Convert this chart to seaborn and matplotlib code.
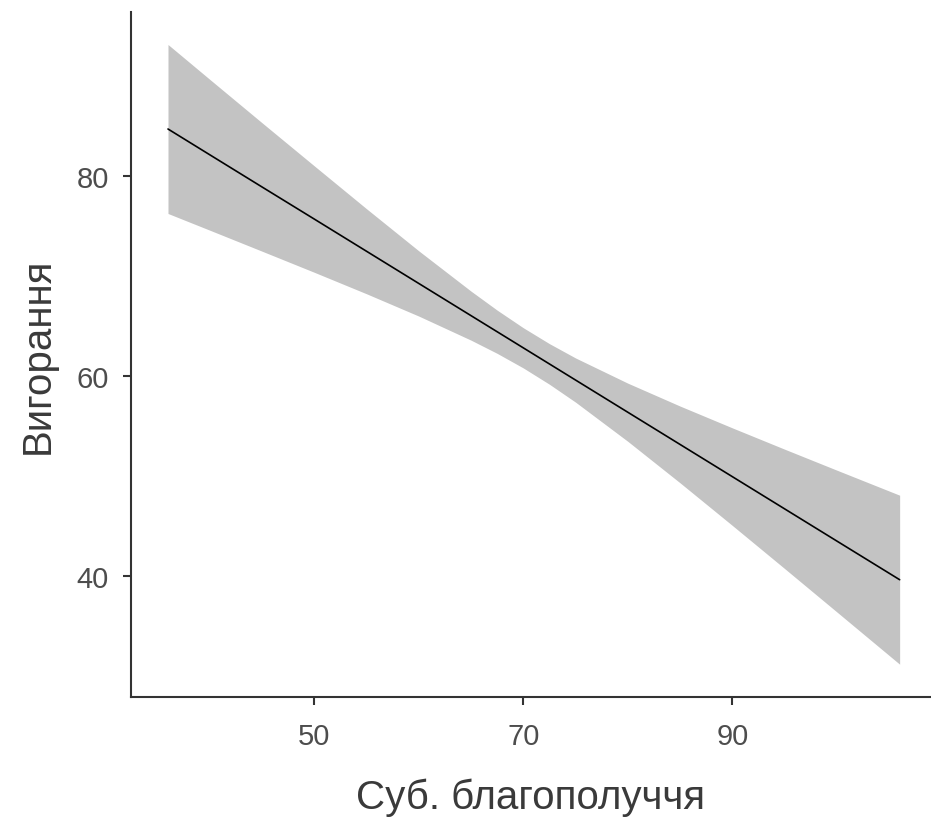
import matplotlib
matplotlib.use("Agg")
import matplotlib.pyplot as plt
import seaborn as sns
import pandas as pd

# Values
x_vals = [36, 40, 45, 50, 55, 60, 65, 67.5, 70, 72.5, 75, 80, 85, 90, 95, 100, 106]
fit_vals = [84.70, 82.12, 78.90, 75.69, 72.47, 69.25, 66.03, 64.42, 62.81, 61.20,
            59.59, 56.37, 53.15, 49.93, 46.71, 43.49, 39.63]
lower_vals = [76.25, 74.58, 72.48, 70.37, 68.22, 65.99, 63.58, 62.26, 60.80, 59.17,
              57.38, 53.46, 49.31, 45.05, 40.74, 36.40, 31.18]
upper_vals = [93.15, 89.66, 85.32, 81.01, 76.72, 72.51, 68.48, 66.58, 64.82, 63.23,
              61.80, 59.28, 56.99, 54.81, 52.68, 50.58, 48.08]
x_ticks = [50, 70, 90]
y_ticks = [40, 60, 80]
x_label = "Суб. благополуччя"
y_label = "Вигорання"

sns.set_theme(style="ticks")
plt.rcParams['font.family'] = ['Liberation Sans', 'DejaVu Sans']

df = pd.DataFrame({"x": x_vals, "fit": fit_vals, "lo": lower_vals, "hi": upper_vals})

fig = plt.figure(figsize=(9.31, 8.2), dpi=100)
ax = fig.add_axes([131 / 931, 122 / 820, 1 - 131 / 931, (698 - 13) / 820])

ax.fill_between(df["x"], df["lo"], df["hi"], color="#c3c3c3", linewidth=0, zorder=1)
sns.lineplot(data=df, x="x", y="fit", color="black", linewidth=1.2, ax=ax, zorder=2)

ax.set_xlim(32.46, 109.0)
ax.set_ylim(27.9, 96.4)
ax.set_xticks(x_ticks)
ax.set_yticks(y_ticks)

for side in ["top", "right"]:
    ax.spines[side].set_visible(False)
for side in ["left", "bottom"]:
    ax.spines[side].set_color("#333333")
    ax.spines[side].set_linewidth(1.5)

ax.tick_params(axis="both", colors="#333333", length=6, width=1.5,
               labelsize=21, labelcolor="#4d4d4d")
ax.tick_params(axis="y", pad=10)
ax.tick_params(axis="x", pad=12)
ax.set_xlabel(x_label, fontsize=29, color="#3a3a3a", labelpad=20)
ax.set_ylabel(y_label, fontsize=29, color="#3a3a3a", labelpad=14)

fig.savefig("out.png", dpi=100)
